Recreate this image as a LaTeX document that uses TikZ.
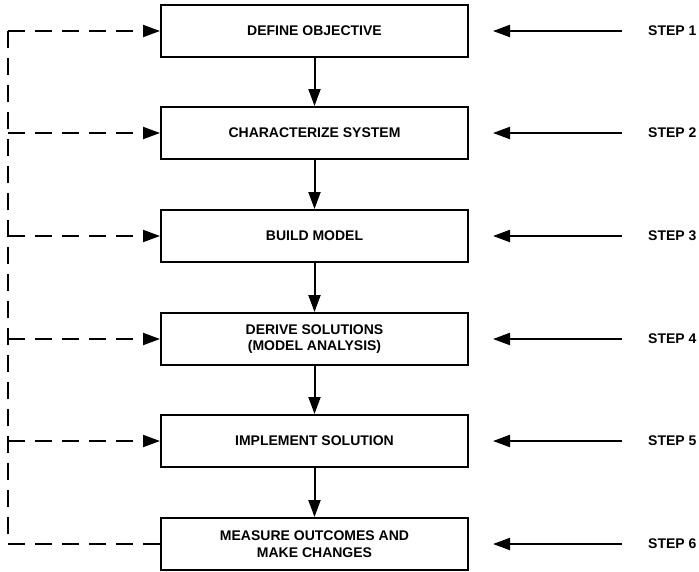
\documentclass[tikz,border=0pt]{standalone}
\usepackage{fontspec}
\setmainfont{Liberation Sans}
\usetikzlibrary{arrows.meta}
\begin{document}
\begin{tikzpicture}[x=1pt,y=-1pt,
  font=\fontsize{14}{16.5}\selectfont\bfseries,
  stepbox/.style={draw, line width=2pt, minimum width=307pt, minimum height=52pt,
    align=center, inner sep=2pt},
  steplabel/.style={anchor=west, inner sep=0pt},
  tip/.style={-{Triangle[length=17pt,width=12pt]}},
  flow/.style={tip, line width=2pt},
  feedback/.style={line width=2pt, dash pattern=on 17pt off 10pt}
]
\useasboundingbox (0,0) rectangle (699,571);

% process boxes
\node[stepbox] (b1) at (314.5,31) {DEFINE OBJECTIVE};
\node[stepbox] (b2) at (314.5,133) {CHARACTERIZE SYSTEM};
\node[stepbox] (b3) at (314.5,236) {BUILD MODEL};
\node[stepbox] (b4) at (314.5,339) {DERIVE SOLUTIONS\\(MODEL ANALYSIS)};
\node[stepbox] (b5) at (314.5,441) {IMPLEMENT SOLUTION};
\node[stepbox] (b6) at (314.5,544) {MEASURE OUTCOMES AND\\MAKE CHANGES};

% step labels
\node[steplabel] (s1) at (648,31) {STEP 1};
\node[steplabel] (s2) at (648,133) {STEP 2};
\node[steplabel] (s3) at (648,236) {STEP 3};
\node[steplabel] (s4) at (648,339) {STEP 4};
\node[steplabel] (s5) at (648,441) {STEP 5};
\node[steplabel] (s6) at (648,544) {STEP 6};

% downward flow
\foreach \a/\b in {b1/b2,b2/b3,b3/b4,b4/b5,b5/b6}
  \draw[flow] (\a.south) -- (\b.north);

% step arrows
\foreach \i in {1,...,6}
  \draw[flow, shorten <=26pt, shorten >=24pt] (s\i.west) -- (b\i.east);

% feedback loop
\coordinate (rail) at (8,0);
\draw[feedback] (b6.west) -- (rail |- b6.west) -- (rail |- b1.west);
\draw[feedback, tip] (rail |- b1.west) -- (b1.west);
\foreach \i in {2,3,4,5}
  \draw[feedback, tip] (rail |- b\i.west) -- (b\i.west);
\end{tikzpicture}
\end{document}
